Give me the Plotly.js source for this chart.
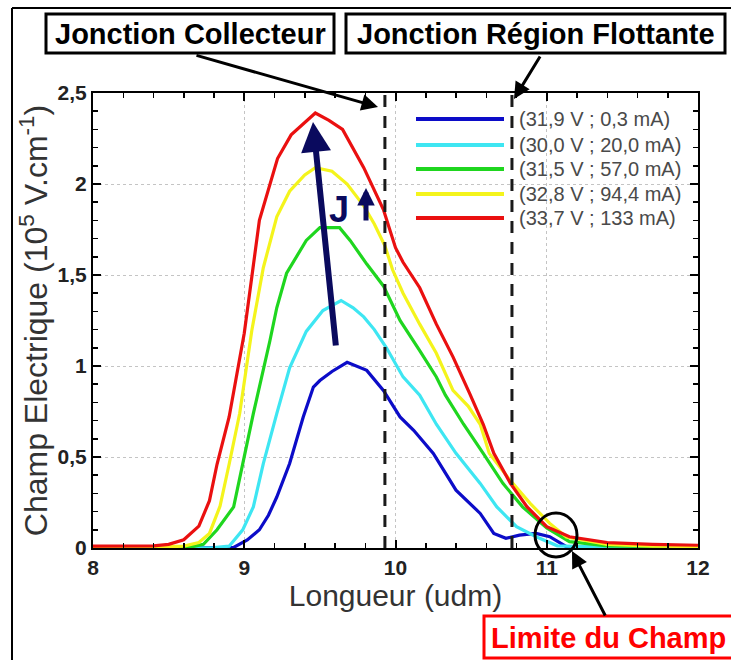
<!DOCTYPE html>
<html><head><meta charset="utf-8">
<script src="https://cdn.plot.ly/plotly-3.0.1.min.js"></script>
<style>html,body{margin:0;padding:0;background:#fff}#chart{width:731px;height:660px}</style>
</head><body><div id="chart"></div>
<script>
// ---- data ----
const seriesLabels = ['(31,9 V ; 0,3 mA)', '(30,0 V ; 20,0 mA)', '(31,5 V ; 57,0 mA)', '(32,8 V ; 94,4 mA)', '(33,7 V ; 133 mA)'];
const seriesColors = ['#0c0cc8', '#3ee6f2', '#1fd61f', '#f4f41c', '#ea1010'];

const blueX = [8.0, 8.5, 8.93, 9.02, 9.10, 9.16, 9.215, 9.30, 9.39, 9.457, 9.50, 9.58, 9.68, 9.81, 9.92, 10.03, 10.12, 10.25, 10.40, 10.56, 10.65, 10.73, 10.82, 10.93, 11.02, 11.13, 11.4, 12.0];
const blueY = [0, 0, 0.003, 0.044, 0.1, 0.18, 0.28, 0.464, 0.72, 0.884, 0.92, 0.97, 1.02, 0.976, 0.866, 0.72, 0.647, 0.52, 0.318, 0.19, 0.08, 0.053, 0.071, 0.08, 0.062, 0.007, 0.003, 0.002];

const cyanX = [8.0, 8.8, 8.9, 8.99, 9.06, 9.126, 9.215, 9.30, 9.41, 9.46, 9.52, 9.64, 9.72, 9.79, 9.86, 9.94, 10.05, 10.16, 10.27, 10.40, 10.56, 10.67, 10.80, 10.93, 11.07, 11.4, 12.0];
const cyanY = [0, 0.002, 0.01, 0.1, 0.226, 0.464, 0.738, 0.99, 1.19, 1.24, 1.305, 1.36, 1.32, 1.27, 1.20, 1.10, 0.94, 0.84, 0.68, 0.52, 0.355, 0.226, 0.117, 0.062, 0.012, 0.003, 0.002];

const greenX = [8.0, 8.5, 8.65, 8.73, 8.82, 8.93, 8.99, 9.06, 9.17, 9.215, 9.28, 9.41, 9.50, 9.63, 9.70, 9.81, 9.92, 10.03, 10.16, 10.27, 10.33, 10.45, 10.58, 10.71, 10.84, 11.0, 11.15, 11.4, 12.0];
const greenY = [0.003, 0.003, 0.006, 0.02, 0.10, 0.226, 0.464, 0.738, 1.14, 1.32, 1.51, 1.69, 1.76, 1.76, 1.69, 1.56, 1.44, 1.25, 1.085, 0.94, 0.84, 0.68, 0.52, 0.355, 0.226, 0.11, 0.035, 0.012, 0.005];

const yellowX = [8.0, 8.4, 8.6, 8.7, 8.77, 8.84, 8.9, 8.97, 9.05, 9.126, 9.215, 9.30, 9.40, 9.47, 9.58, 9.68, 9.79, 9.86, 9.93, 9.98, 10.05, 10.16, 10.27, 10.38, 10.48, 10.56, 10.62, 10.76, 10.89, 11.02, 11.13, 11.4, 11.7, 12.0];
const yellowY = [0.005, 0.005, 0.01, 0.03, 0.08, 0.23, 0.46, 0.74, 1.195, 1.54, 1.82, 1.96, 2.05, 2.09, 2.07, 2.0, 1.88, 1.78, 1.66, 1.53, 1.40, 1.23, 1.07, 0.866, 0.78, 0.68, 0.52, 0.37, 0.245, 0.135, 0.06, 0.02, 0.01, 0.008];

const redX = [8.0, 8.2, 8.4, 8.5, 8.6, 8.7, 8.77, 8.82, 8.9, 9.0, 9.1, 9.22, 9.31, 9.47, 9.56, 9.65, 9.79, 9.92, 10.0, 10.05, 10.16, 10.27, 10.38, 10.49, 10.58, 10.65, 10.76, 10.87, 11.0, 11.15, 11.4, 11.7, 12.0];
const redY = [0.01, 0.01, 0.012, 0.02, 0.045, 0.12, 0.26, 0.46, 0.72, 1.18, 1.80, 2.14, 2.27, 2.39, 2.35, 2.30, 2.09, 1.86, 1.65, 1.57, 1.43, 1.23, 1.05, 0.85, 0.68, 0.52, 0.355, 0.226, 0.117, 0.062, 0.03, 0.02, 0.015];

const junctionX = [9.93, 10.77];
const xTickVals = [8, 9, 10, 11, 12];
const xTickText = ['8', '9', '10', '11', '12'];
const yTickVals = [0, 0.5, 1, 1.5, 2, 2.5];
const yTickText = ['0', '0,5', '1', '1,5', '2', '2,5'];

// ---- helpers (pixel -> paper for decorations) ----
const L = 93, R = 33, T = 93, B = 112, W = 731, H = 660;
const pw = W - L - R, ph = H - T - B;
const px = v => (v - L) / pw;
const py = v => (H - B - v) / ph;
const FONT = 'Liberation Sans, Arial, Helvetica, sans-serif';

const xs = [blueX, cyanX, greenX, yellowX, redX];
const ys = [blueY, cyanY, greenY, yellowY, redY];
const traces = xs.map((x, i) => ({
  type: 'scatter', mode: 'lines', x: x, y: ys[i], name: seriesLabels[i],
  line: {color: seriesColors[i], width: 3.2}, showlegend: false, hoverinfo: 'skip'
}));

const shapes = [];
junctionX.forEach(j => shapes.push({type: 'line', xref: 'x', yref: 'y', x0: j, x1: j, y0: 0, y1: 2.5,
  line: {color: '#1a1a1a', width: 3, dash: '12px,9px'}, layer: 'above'}));
const legRows = [119, 145, 169, 194, 218];
seriesLabels.forEach((s, i) => shapes.push({type: 'line', xref: 'paper', yref: 'paper',
  x0: px(416), x1: px(504), y0: py(legRows[i]), y1: py(legRows[i]),
  line: {color: seriesColors[i], width: 4}}));
shapes.push({type: 'line', xref: 'paper', yref: 'paper', x0: px(12), x1: px(12), y0: py(8), y1: py(662), line: {color: '#000', width: 2}});
shapes.push({type: 'line', xref: 'paper', yref: 'paper', x0: px(12), x1: px(733), y0: py(8), y1: py(8), line: {color: '#000', width: 2}});
shapes.push({type: 'rect', xref: 'paper', yref: 'paper', x0: px(46), x1: px(334), y0: py(14), y1: py(53), line: {color: '#000', width: 3}, fillcolor: '#fff'});
shapes.push({type: 'rect', xref: 'paper', yref: 'paper', x0: px(346), x1: px(725), y0: py(14), y1: py(53), line: {color: '#000', width: 3}, fillcolor: '#fff'});
shapes.push({type: 'rect', xref: 'paper', yref: 'paper', x0: px(484), x1: px(740), y0: py(616), y1: py(658), line: {color: '#ff0000', width: 3}, fillcolor: '#fff'});
shapes.push({type: 'circle', xref: 'paper', yref: 'paper', x0: px(535), x1: px(577), y0: py(557), y1: py(513), line: {color: '#000', width: 3}, layer: 'above'});

const annotations = [];
const txt = (x, y, text, font, xanchor) => ({xref: 'paper', yref: 'paper', x: px(x), y: py(y), text: text,
  showarrow: false, xanchor: xanchor || 'center', yanchor: 'middle', font: font});
seriesLabels.forEach((s, i) => annotations.push(txt(517, legRows[i], s, {family: FONT, size: 20, color: '#4a4a4a'}, 'left')));
annotations.push(txt(190, 34, 'Jonction Collecteur', {family: FONT, size: 29, color: '#000', weight: 'bold'}));
annotations.push(txt(535.5, 34, 'Jonction Région Flottante', {family: FONT, size: 29, color: '#000', weight: 'bold'}));
annotations.push(txt(608, 638, 'Limite du Champ', {family: FONT, size: 29, color: '#ff0000', weight: 'bold'}));
annotations.push(txt(339, 209, 'J', {family: FONT, size: 36, color: '#0a0a5e', weight: 'bold'}));
const arrow = (tx, ty, sx, sy, color, width, size) => ({xref: 'paper', yref: 'paper', x: px(tx), y: py(ty),
  ax: sx - tx, ay: sy - ty, text: '', showarrow: true, arrowhead: 2, arrowsize: size, arrowwidth: width, arrowcolor: color, standoff: 0});
annotations.push(arrow(378, 107, 195, 55, '#000', 3, 1.1));
annotations.push(arrow(514, 99, 541, 55, '#000', 3, 1.1));
annotations.push(arrow(572, 551, 606, 617, '#000', 3, 1.1));
annotations.push(arrow(313, 122, 336, 347, '#0a0a5e', 6, 1.0));
annotations.push(arrow(366, 188, 366, 222, '#0a0a5e', 5, 0.7));

const axisCommon = {
  showline: true, linecolor: '#000', linewidth: 2, mirror: 'allticks',
  ticks: 'inside', ticklen: 8, tickwidth: 2, tickcolor: '#000',
  showgrid: true, gridcolor: '#c4c4c4', gridwidth: 1, griddash: 'dot', zeroline: false,
  tickfont: {family: FONT, size: 21, color: '#222', weight: 'bold'}
};

const layout = {
  width: W, height: H, margin: {l: L, r: R, t: T, b: B},
  paper_bgcolor: '#fff', plot_bgcolor: '#fff', showlegend: false,
  xaxis: Object.assign({}, axisCommon, {range: [8, 12], tickmode: 'array', tickvals: xTickVals, ticktext: xTickText,
    minor: {dtick: 0.2, ticks: 'inside', ticklen: 5, tickwidth: 1.5, tickcolor: '#000', showgrid: false},
    title: {text: 'Longueur (udm)', font: {family: FONT, size: 30, color: '#333'}, standoff: 6}}),
  yaxis: Object.assign({}, axisCommon, {range: [0, 2.5], tickmode: 'array', tickvals: yTickVals, ticktext: yTickText,
    minor: {dtick: 0.1, ticks: 'inside', ticklen: 5, tickwidth: 1.5, tickcolor: '#000', showgrid: false},
    title: {text: 'Champ Electrique (10<sup>5</sup> V.cm<sup>-1</sup>)', font: {family: FONT, size: 32, color: '#333'}, standoff: 0}}),
  shapes: shapes, annotations: annotations
};

Plotly.newPlot('chart', traces, layout, {staticPlot: true, displayModeBar: false});
</script></body></html>
